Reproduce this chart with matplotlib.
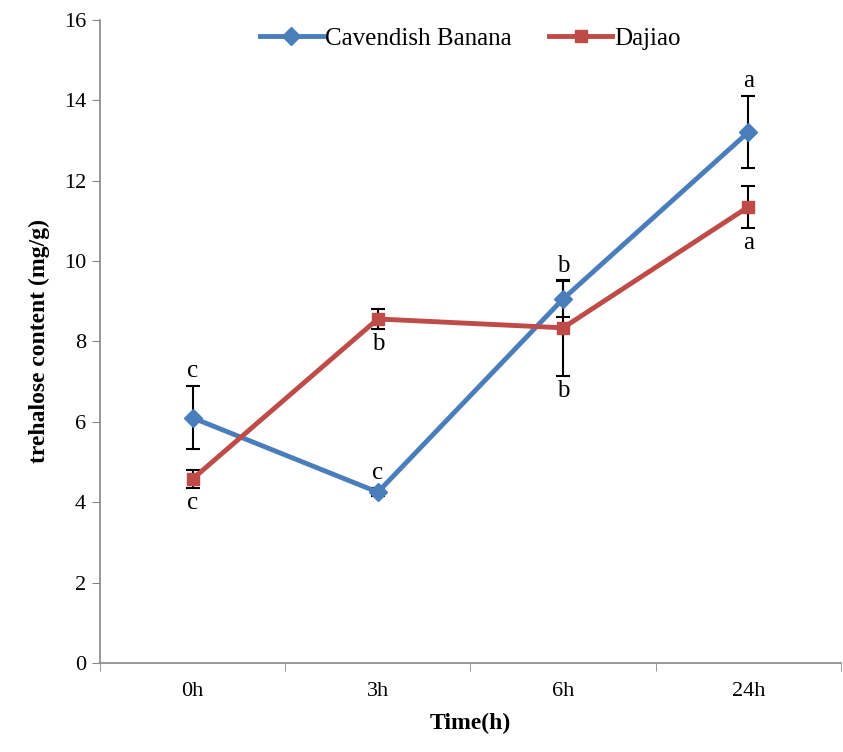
import numpy as np
import matplotlib
matplotlib.use("Agg")
import matplotlib.pyplot as plt

plt.rcParams['font.family'] = ['Liberation Serif', 'DejaVu Serif']

times = ['0h', '3h', '6h', '24h']
cav = [6.10, 4.25, 9.06, 13.21]
cav_err = [0.78, 0.10, 0.45, 0.90]
daj = [4.58, 8.56, 8.34, 11.35]
daj_err = [0.22, 0.24, 1.20, 0.52]
cav_letters = ['c', 'c', 'b', 'a']
daj_letters = ['c', 'b', 'b', 'a']

x = np.arange(len(times))

fig = plt.figure(figsize=(8.43, 7.52), dpi=100)
ax = fig.add_axes([0.1186, 0.1184, 0.879, 0.855])

blue = '#4a7ebb'
red = '#be4b48'

ax.errorbar(x, cav, yerr=cav_err, fmt='none', ecolor='black', elinewidth=1.5, capsize=5, capthick=1.5, zorder=2)
ax.errorbar(x, daj, yerr=daj_err, fmt='none', ecolor='black', elinewidth=1.5, capsize=5, capthick=1.5, zorder=2)
ax.plot(x, cav, color=blue, lw=3.5, marker='D', ms=9, label='Cavendish Banana', zorder=3)
ax.plot(x, daj, color=red, lw=3.5, marker='s', ms=9, label='Dajiao', zorder=3)

# significance letters
for i in range(len(x)):
    ax.text(x[i], cav[i] + cav_err[i] + 0.1, cav_letters[i], ha='center', va='bottom', fontsize=18)
    ax.text(x[i], daj[i] - daj_err[i] - 0.1, daj_letters[i], ha='center', va='top', fontsize=18)

ax.set_xlim(-0.5, 3.5)
ax.set_ylim(0, 16)
ax.set_yticks(range(0, 17, 2))
ax.set_xticks(x)
ax.set_xticklabels(times)
ax.set_xticks(np.arange(-0.5, 3.6, 1), minor=True)
ax.tick_params(axis='x', which='major', length=0, labelsize=16, pad=14)
ax.tick_params(axis='x', which='minor', length=6, color='#868686', direction='out')
ax.tick_params(axis='y', length=6, color='#868686', labelsize=16, pad=4)

for s in ['top', 'right']:
    ax.spines[s].set_visible(False)
for s in ['left', 'bottom']:
    ax.spines[s].set_color('#868686')
    ax.spines[s].set_linewidth(1.2)

ax.set_xlabel('Time(h)', fontsize=17, fontweight='bold', labelpad=8)
ax.set_ylabel('trehalose content (mg/g)', fontsize=17, fontweight='bold', labelpad=10)

ax.legend(loc='upper center', bbox_to_anchor=(0.5, 1.024), ncol=2, frameon=False,
          fontsize=18, handlelength=2.5, columnspacing=1.5, handletextpad=0.1)

fig.savefig('out.png', dpi=100)
